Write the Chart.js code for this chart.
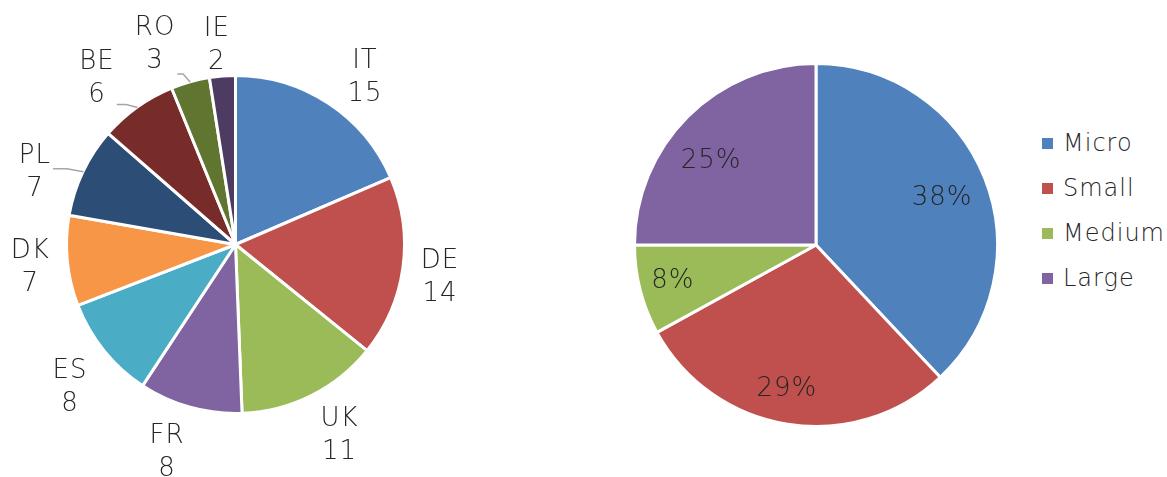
<!DOCTYPE html>
<html><head><meta charset="utf-8">
<script src="https://cdn.jsdelivr.net/npm/chart.js@4.4.1/dist/chart.umd.min.js"></script>
<style>
html,body{margin:0;padding:0;background:#fff;width:1167px;height:477px;overflow:hidden;}
#wrapL{position:absolute;left:0;top:0;width:471px;height:477px;}
#wrapR{position:absolute;left:600px;top:0;width:432px;height:477px;}
#legend{position:absolute;left:0;top:0;font-family:"DejaVu Sans",sans-serif;font-weight:200;font-size:24px;letter-spacing:1px;color:#262626;}
.item{position:absolute;left:1042px;height:28px;line-height:28px;white-space:nowrap;display:flex;align-items:center;}
.sw{display:inline-block;width:11px;height:11px;margin-right:10px;}
</style></head>
<body>
<div id="wrapL"><canvas id="left"></canvas></div>
<div id="wrapR"><canvas id="right"></canvas></div>
<div id="legend"></div>
<script>
// ---- data ----
const countries = ['IT','DE','UK','FR','ES','DK','PL','BE','RO','IE'];
const counts = [15,14,11,8,8,7,7,6,3,2];
const sizeClasses = ['Micro','Small','Medium','Large'];
const sizeShares = [38,29,8,25];

// ---- styles ----
const countryColors = ['#4F81BD','#C0504D','#9BBB59','#8064A2','#4BACC6','#F79646','#2C4D75','#772C2A','#5F7530','#4D3B62'];
const sizeColors = ['#4F81BD','#C0504D','#9BBB59','#8064A2'];
const FONT = '"DejaVu Sans", sans-serif';
const TEXT = '#262626';
const leftAngleShift = [4.3,1.1,-2,2.7,-1.9,-0.6,-5.5,-4.1,-6.3,-0.9];
const leftRadiusShift = [-0.5,-5.5,4.5,6,6,-6,1,4.5,3.5,-11.5];
const leftLeader = [0,0,0,0,0,0,1,1,1,0];
const rightAngleShift = [0.7,2.5,0.4,-6];
const rightRadiusFrac = [0.75,0.81,0.82,0.75];

const deg = Math.PI/180;

const outsideLabels = {
  id:'outsideLabels',
  afterDatasetsDraw(chart){
    const ctx = chart.ctx, meta = chart.getDatasetMeta(0);
    const bw = 3, lh = 33;
    ctx.save();
    ctx.font = `200 26px ${FONT}`;
    if ('letterSpacing' in ctx) ctx.letterSpacing = '1px';
    ctx.textAlign='center'; ctx.textBaseline='middle';
    meta.data.forEach((arc,i)=>{
      const p = arc.getProps(['x','y','startAngle','endAngle','outerRadius'],true);
      const rv = p.outerRadius - bw/2;
      const m0 = (p.startAngle+p.endAngle)/2;
      const m = m0 + leftAngleShift[i]*deg;
      const R = rv + 45 + leftRadiusShift[i];
      const lx = p.x + R*Math.cos(m), ly = p.y + R*Math.sin(m);
      const l1 = chart.data.labels[i], l2 = String(chart.data.datasets[0].data[i]);
      const w = Math.max(ctx.measureText(l1).width, ctx.measureText(l2).width);
      if (leftLeader[i]) {
        const ax = p.x + (rv+1)*Math.cos(m0), ay = p.y + (rv+1)*Math.sin(m0);
        const x0 = lx - w/2 - 2, x1 = lx + w/2 + 2, y0 = ly - lh, y1 = ly + lh;
        const bx = Math.min(Math.max(ax,x0),x1), by = Math.min(Math.max(ay,y0),y1) - 3;
        ctx.strokeStyle = '#A6A6A6'; ctx.lineWidth = 1.5;
        ctx.beginPath();
        ctx.moveTo(bx,by);
        ctx.lineTo(bx + (ax-bx)*0.45, by);
        ctx.lineTo(ax,ay);
        ctx.stroke();
      }
      ctx.fillStyle = TEXT;
      ctx.fillText(l1, lx, ly - lh/2 + 1);
      ctx.fillText(l2, lx, ly + lh/2 + 1);
    });
    ctx.restore();
  }
};

const insideLabels = {
  id:'insideLabels',
  afterDatasetsDraw(chart){
    const ctx = chart.ctx, meta = chart.getDatasetMeta(0);
    const bw = 3;
    ctx.save();
    ctx.font = `200 26px ${FONT}`;
    if ('letterSpacing' in ctx) ctx.letterSpacing = '1px';
    ctx.textAlign='center'; ctx.textBaseline='middle';
    ctx.fillStyle = TEXT;
    meta.data.forEach((arc,i)=>{
      const p = arc.getProps(['x','y','startAngle','endAngle','outerRadius'],true);
      const rv = p.outerRadius - bw/2;
      const m = (p.startAngle+p.endAngle)/2 + rightAngleShift[i]*deg;
      const R = rv*rightRadiusFrac[i];
      ctx.fillText(chart.data.datasets[0].data[i]+'%', p.x + R*Math.cos(m), p.y + R*Math.sin(m) + 1);
    });
    ctx.restore();
  }
};

const common = {
  responsive:true, maintainAspectRatio:false, animation:false,
  plugins:{legend:{display:false}, tooltip:{enabled:false}},
};

new Chart(document.getElementById('left'), {
  type:'pie',
  data:{labels:countries, datasets:[{data:counts, backgroundColor:countryColors, borderColor:'#ffffff', borderWidth:3, radius:169}]},
  options:Object.assign({}, common, {layout:{padding:{top:12,bottom:0,left:0,right:0}}}),
  plugins:[outsideLabels]
});

new Chart(document.getElementById('right'), {
  type:'pie',
  data:{labels:sizeClasses, datasets:[{data:sizeShares, backgroundColor:sizeColors, borderColor:'#ffffff', borderWidth:3, radius:181.5}]},
  options:Object.assign({}, common, {layout:{padding:{top:13,bottom:0,left:0,right:0}}}),
  plugins:[insideLabels]
});

const legendYs = [143,188,233,278];
const lg = document.getElementById('legend');
sizeClasses.forEach((name,i)=>{
  const d = document.createElement('div');
  d.className='item';
  d.style.top = (legendYs[i]-14)+'px';
  const s = document.createElement('span'); s.className='sw'; s.style.background = sizeColors[i];
  const t = document.createElement('span'); t.textContent = name;
  d.appendChild(s); d.appendChild(t);
  lg.appendChild(d);
});
</script>
</body></html>
